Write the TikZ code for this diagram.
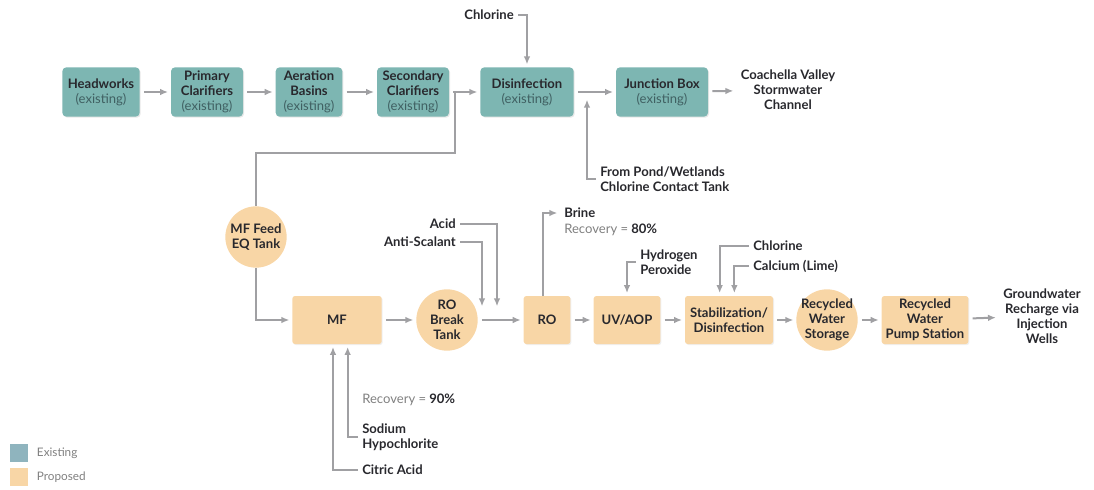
\documentclass[tikz,border=0pt]{standalone}
\usepackage{fontspec}
\setmainfont{Lato}
\usepackage{tikz}
\usetikzlibrary{positioning, shapes, calc, arrows.meta, shadows}

\definecolor{exfill}{RGB}{125,182,178}
\definecolor{prfill}{RGB}{248,214,166}
\definecolor{pipegray}{RGB}{160,160,163}
\definecolor{ink}{RGB}{40,40,45}
\definecolor{exnotecol}{RGB}{64,96,98}
\definecolor{legex}{RGB}{143,180,190}
\newcommand{\exnote}{{\mdseries\color{exnotecol}(existing)}}
\newcommand{\recov}[1]{{\mdseries\color{gray}Recovery =} #1}

\begin{document}
\begin{tikzpicture}[x=0.75pt, y=-0.75pt, font=\fontsize{9.8}{11.3}\selectfont\bfseries, text=ink,
	exbox/.style={fill=exfill, rounded corners=3pt, align=center, minimum height=37pt, inner sep=2pt,
		drop shadow={opacity=0.18, shadow xshift=0.8pt, shadow yshift=-0.8pt}},
	prbox/.style={fill=prfill, rounded corners=2pt, align=center, minimum height=36pt, inner sep=2pt,
		drop shadow={opacity=0.12, shadow xshift=0.8pt, shadow yshift=-0.8pt}},
	tank/.style={circle, fill=prfill, align=center, minimum size=46pt, inner sep=-4pt},
	lbl/.style={align=left, inner sep=3pt},
	feed/.style={draw=pipegray, line width=1.5pt},
	arr/.style={feed, shorten >=2pt, -{Latex[length=6pt, width=5pt]}},
	flow/.style={arr, shorten <=3pt}]
	\useasboundingbox (0,0) rectangle (1094,489);
	
	% existing plant
	\node[exbox, minimum width=58pt] (head) at (101,92) {Headworks\\\exnote};
	\node[exbox, minimum width=54pt] (prim) at (207,92) {Primary\\Clarifiers\\\exnote};
	\node[exbox, minimum width=50pt] (aer) at (309,92) {Aeration\\Basins\\\exnote};
	\node[exbox, minimum width=54pt] (sec) at (413,92) {Secondary\\Clarifiers\\\exnote};
	\node[exbox, minimum width=70pt] (dis) at (527,92) {Disinfection\\\exnote};
	\node[exbox, minimum width=69pt] (jb) at (662,92) {Junction Box\\\exnote};
	\node[align=center] (chan) at (788,90) {Coachella Valley\\Stormwater\\Channel};
	
	\draw[flow] (head) -- (prim);
	\draw[flow] (prim) -- (aer);
	\draw[flow] (aer) -- (sec);
	\draw[flow] (sec) -- (dis);
	\draw[flow] (dis) -- (jb);
	\draw[flow] (jb) -- (chan);
	
	\node[lbl, anchor=east] (cl1) at (518,15) {Chlorine};
	\draw[arr] (cl1.east) -| (dis.north);
	
	\node[lbl, anchor=west] (pond) at (596,179) {From Pond/Wetlands\\Chlorine Contact Tank};
	\coordinate (pondin) at (587,97);
	\draw[arr] (pond.west) -| (pondin);
	
	% proposed treatment train
	\node[tank] (eq) at (256,237) {MF Feed\\EQ Tank};
	\node[prbox, minimum width=67pt] (mf) at (337,320) {MF};
	\node[tank] (brk) at (447,320) {RO\\Break\\Tank};
	\node[prbox, minimum width=35pt] (ro) at (547,320) {RO};
	\node[prbox, minimum width=50pt] (uv) at (627,320) {UV/AOP};
	\node[prbox, minimum width=66pt] (stab) at (729,320) {Stabilization/\\Disinfection};
	\node[tank] (stor) at (827,320) {Recycled\\Water\\Storage};
	\node[prbox, minimum width=65pt] (pump) at (925,320) {Recycled\\Water\\Pump Station};
	\node[align=center] (gw) at (1042,316) {Groundwater\\Recharge via\\Injection\\Wells};
	
	\coordinate (split) at (455,92);
	\coordinate (bend) at (455,153);
	\draw[feed] (split) -- (bend) -| (eq.north);
	\draw[arr] (eq.south) |- (mf.west);
	
	\draw[flow] (mf) -- (brk);
	\draw[flow] (brk) -- (ro);
	\draw[flow] (ro) -- (uv);
	\draw[flow] (uv) -- (stab);
	\draw[flow] (stab) -- (stor);
	\draw[flow] (stor) -- (pump);
	\draw[flow] (pump) -- (gw);
	
	% chemicals
	\node[lbl, anchor=east] (acid) at (460,224) {Acid};
	\node[lbl, anchor=east] (anti) at (460,242) {Anti-Scalant};
	\coordinate (acidin) at (497,309);
	\coordinate (antiin) at (482,309);
	\draw[arr] (acid.east) -| (acidin);
	\draw[arr] (anti.east) -| (antiin);
	
	\node[lbl, anchor=west] (brine) at (560,213) {Brine};
	\node[lbl, anchor=north west, inner ysep=1pt] (rec80) at (brine.south west) {\recov{80\%}};
	\draw[arr] ([xshift=-3pt]ro.north) |- (brine.west);
	
	\node[lbl, anchor=west] (h2o2) at (636,262) {Hydrogen\\Peroxide};
	\draw[arr] (h2o2.west) -| (uv.north);
	
	\node[lbl, anchor=west] (cl2) at (749,246) {Chlorine};
	\node[lbl, anchor=west] (lime) at (749,266) {Calcium (Lime)};
	\draw[arr] (cl2.west) -| ([xshift=-7pt]stab.north);
	\draw[arr] (lime.west) -| ([xshift=4pt]stab.north);
	
	\node[lbl, anchor=west] (rec90) at (358,400) {\recov{90\%}};
	\node[lbl, anchor=west] (naocl) at (358,437) {Sodium\\Hypochlorite};
	\node[lbl, anchor=west] (citric) at (358,470) {Citric Acid};
	\draw[arr] (naocl.west) -| ([xshift=8pt]mf.south);
	\draw[arr] (citric.west) -| ([xshift=-3pt]mf.south);
	
	% legend
	\node[fill=legex, minimum size=13.5pt, inner sep=0pt] (kex) at (19,453) {};
	\node[fill=prfill, minimum size=13.5pt, inner sep=0pt] (kpr) at (19,477) {};
	\node[right=3pt of kex, font=\fontsize{8.8}{10}\selectfont\mdseries, text=gray] (kext) {Existing};
	\node[right=3pt of kpr, font=\fontsize{8.8}{10}\selectfont\mdseries, text=gray] (kprt) {Proposed};
\end{tikzpicture}
\end{document}
